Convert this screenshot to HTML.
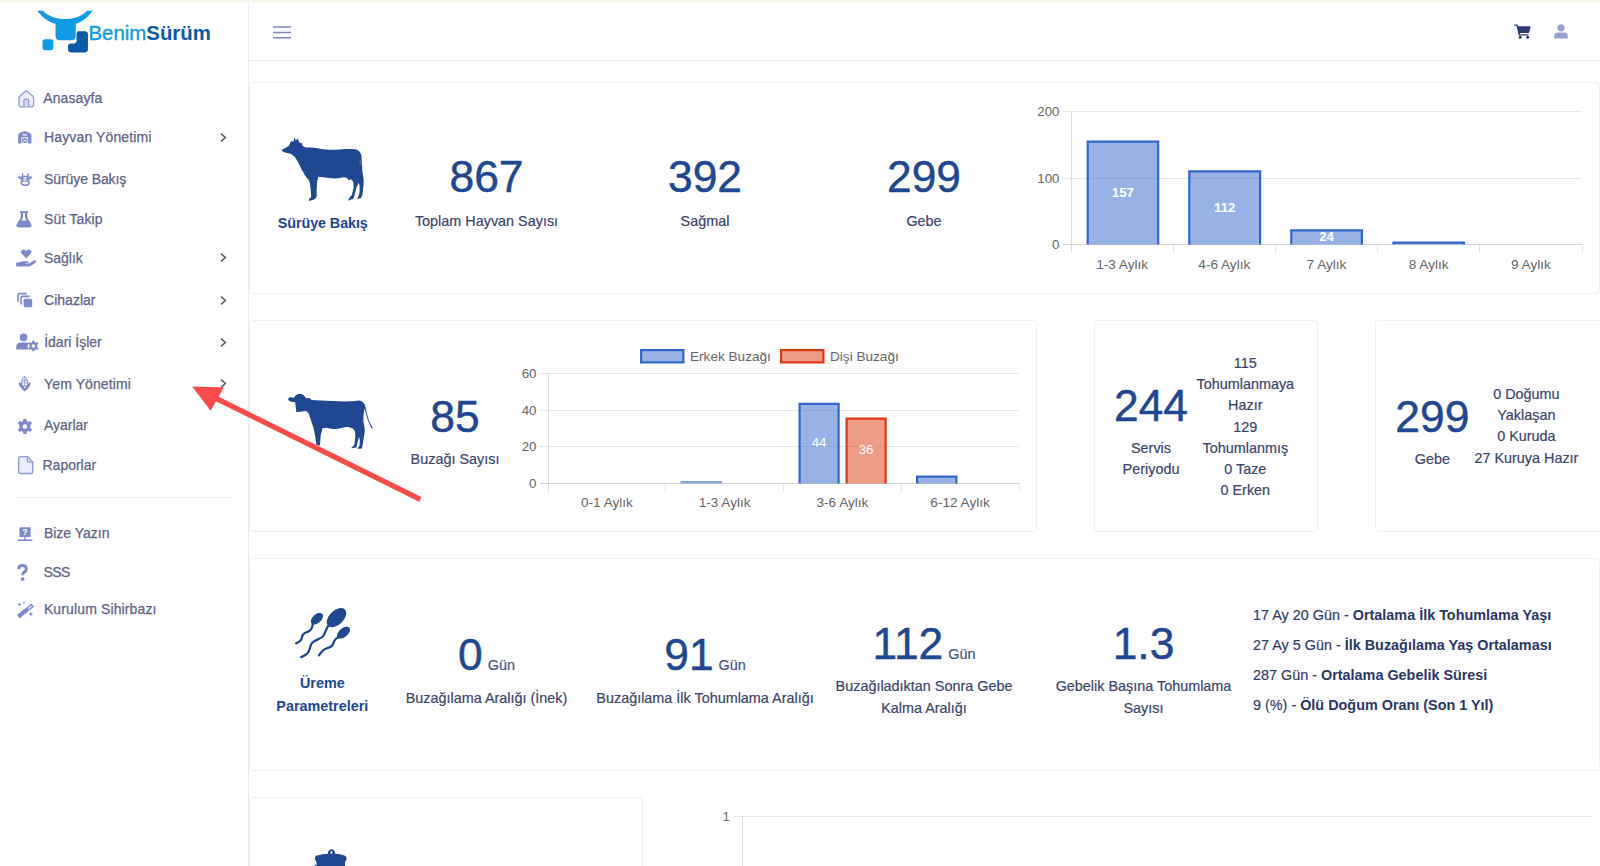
<!DOCTYPE html>
<html lang="tr">
<head>
<meta charset="utf-8">
<title>BenimSürüm</title>
<style>
*{box-sizing:border-box;margin:0;padding:0}
html,body{width:1600px;height:866px;overflow:hidden;background:#fff}
body{font-family:"Liberation Sans",sans-serif;position:relative;color:#3b466b}
.abs{position:absolute}
#topstrip{left:0;top:0;width:1600px;height:3px;background:#f7f7ee;border-bottom:1px solid #ebebe4}
#sidebar{left:0;top:2px;width:249px;height:864px;background:#fff;border-right:1px solid #e8ecf5}
#header{left:249px;top:2px;width:1351px;height:59px;background:#fff;border-bottom:1px solid #e8ecf5}
.card{position:absolute;background:#fff;border:1px solid #edf0f7;border-radius:4px}
.mi{position:absolute;left:43px;font-size:14px;color:#5e6486;-webkit-text-stroke:0.25px #5e6486;margin-left:0.1px;margin-top:0.3px;white-space:nowrap;line-height:16px;height:16px}
.chev{position:absolute;left:219px;width:8px;height:10px}
.num{position:absolute;color:#1f4792;-webkit-text-stroke:0.45px #1f4792;text-align:center;white-space:nowrap}
.lbl{position:absolute;color:#3b466b;-webkit-text-stroke:0.2px #3b466b;text-align:center;white-space:nowrap;font-size:14.4px;line-height:21px}
.ttl{position:absolute;color:#1f4792;font-weight:bold;text-align:center;white-space:nowrap;font-size:14.4px;line-height:23px}
.gun{font-size:14.4px;color:#48547f;-webkit-text-stroke:0.2px #48547f;margin-left:5px}
.lst{position:absolute;font-size:14.4px;line-height:30px;color:#34406a;white-space:nowrap;-webkit-text-stroke:0.2px #34406a}
.lst b{color:#2b3866;-webkit-text-stroke:0}
svg{position:absolute;overflow:visible}
svg text{font-family:"Liberation Sans",sans-serif}
</style>
</head>
<body>
<div id="topstrip" class="abs"></div>
<div id="sidebar" class="abs"></div>
<div id="header" class="abs"></div>

<svg class="abs" style="left:30px;top:0;width:190px;height:65px" viewBox="0 0 1600 547">
 <path d="M62,90 L108,90 C170,150 240,160 295,160 C350,160 420,150 482,90 L528,90 C470,170 400,196 385,200 L385,300 Q385,338 347,338 L253,338 Q215,338 215,300 L215,200 C190,196 120,170 62,90 Z" fill="#0f9be3"/>
 <rect x="105" y="330" width="92" height="92" rx="20" fill="#0f9be3"/>
 <path d="M400,262 L460,262 Q488,262 488,290 L488,412 Q488,442 458,442 L350,442 Q320,442 320,412 L320,392 Q320,366 346,366 L372,366 Q392,366 392,346 L392,290 Q392,270 400,262 Z" fill="#0c59a8" stroke="#fff" stroke-width="10" paint-order="stroke"/>
</svg>
<div class="abs" style="left:88.5px;top:20.6px;font-size:20.4px;line-height:24px;color:#0f9be3;white-space:nowrap;-webkit-text-stroke:0.35px #0f9be3" id="logotxt">Benim<b style="color:#0c59a8;-webkit-text-stroke:0">Sürüm</b></div>

<div class="mi" style="left:43.2px;top:89.95px;letter-spacing:0.1px">Anasayfa</div>
<div class="mi" style="left:44px;top:128.95px;letter-spacing:0.12px">Hayvan Yönetimi</div>
<svg class="chev" style="left:220px;top:132.70px;width:7px;height:9px" viewBox="0 0 7 9"><path d="M1,0.6 L5.4,4.5 L1,8.4" fill="none" stroke="#555a74" stroke-width="1.5"/></svg>
<div class="mi" style="left:44px;top:171.15px;letter-spacing:-0.1px">Sürüye Bakış</div>
<div class="mi" style="left:44px;top:210.35px;letter-spacing:0.15px">Süt Takip</div>
<div class="mi" style="left:43.8px;top:249.65px">Sağlık</div>
<svg class="chev" style="left:220px;top:253.40px;width:7px;height:9px" viewBox="0 0 7 9"><path d="M1,0.6 L5.4,4.5 L1,8.4" fill="none" stroke="#555a74" stroke-width="1.5"/></svg>
<div class="mi" style="left:44px;top:291.75px">Cihazlar</div>
<svg class="chev" style="left:220px;top:295.50px;width:7px;height:9px" viewBox="0 0 7 9"><path d="M1,0.6 L5.4,4.5 L1,8.4" fill="none" stroke="#555a74" stroke-width="1.5"/></svg>
<div class="mi" style="left:44.1px;top:333.85px">İdari İşler</div>
<svg class="chev" style="left:220px;top:337.60px;width:7px;height:9px" viewBox="0 0 7 9"><path d="M1,0.6 L5.4,4.5 L1,8.4" fill="none" stroke="#555a74" stroke-width="1.5"/></svg>
<div class="mi" style="left:44px;top:375.35px;letter-spacing:0.1px">Yem Yönetimi</div>
<svg class="chev" style="left:220px;top:379.10px;width:7px;height:9px" viewBox="0 0 7 9"><path d="M1,0.6 L5.4,4.5 L1,8.4" fill="none" stroke="#555a74" stroke-width="1.5"/></svg>
<div class="mi" style="left:43.8px;top:417.15px">Ayarlar</div>
<div class="mi" style="left:42.4px;top:456.45px">Raporlar</div>
<div class="mi" style="left:43.8px;top:524.95px">Bize Yazın</div>
<div class="mi" style="left:43.5px;top:564.05px;letter-spacing:-0.6px">SSS</div>
<div class="mi" style="left:43.8px;top:601.15px;letter-spacing:0.13px">Kurulum Sihirbazı</div>
<div class="abs" style="left:16px;top:497px;width:215px;height:1px;background:#e8ecf5"></div>
<svg style="left:17.6px;top:90px;width:16.6px;height:17.6px" viewBox="0 0 16.6 17.6"><path d="M1,7.6 Q1,6.8 1.7,6.2 L7.4,1.2 Q8.3,0.5 9.2,1.2 L14.9,6.2 Q15.6,6.8 15.6,7.6 L15.6,14.6 Q15.6,16.8 13.4,16.8 L3.2,16.8 Q1,16.8 1,14.6 Z" fill="#eceefb" stroke="#8d98d8" stroke-width="1.25" stroke-linejoin="round"/><path d="M5.9,16.6 L5.9,10.4 Q5.9,9.2 7.1,9.2 L9.5,9.2 Q10.7,9.2 10.7,10.4 L10.7,16.6" fill="#d4d8f5" stroke="#8d98d8" stroke-width="1.25"/></svg>
<svg style="left:18.2px;top:131px;width:13.6px;height:12.6px" viewBox="0 0 13.6 12.6"><path d="M0.2,12.4 L0.2,3.6 L2,1.8 L6.8,0.1 L11.6,1.8 L13.4,3.6 L13.4,12.4 L10.2,12.4 L10.2,6.2 L3.4,6.2 L3.4,12.4 Z M4.6,3.2 L9,3.2 L9,4.6 L4.6,4.6 Z" fill="#7d89cc" fill-rule="evenodd"/><path d="M4.2,7 L9.4,7 L6.8,9.3 Z M4.2,12 L9.4,12 L6.8,9.9 Z M4,7.6 L4,11.4 L6.2,9.6 Z M9.6,7.6 L9.6,11.4 L7.4,9.6 Z" fill="#7d89cc"/></svg>
<svg style="left:18px;top:173.2px;width:14.4px;height:13px" viewBox="0 0 14.4 13"><path d="M4.3,3.4 L10.1,3.4 L10.1,7.2 Q11.2,8 11.2,9.6 Q11.2,12.3 7.2,12.3 Q3.2,12.3 3.2,9.6 Q3.2,8 4.3,7.2 Z" fill="#f1f2fc" stroke="#7d89cc" stroke-width="1.5" stroke-linejoin="round"/><path d="M4.3,4.4 L0.9,4.1 Q1.6,6.2 4.3,6 M10.1,4.4 L13.5,4.1 Q12.8,6.2 10.1,6 M4.7,3.2 L4.3,0.7 M9.7,3.2 L10.1,0.7" fill="none" stroke="#7d89cc" stroke-width="1.4" stroke-linecap="round"/><path d="M3.6,8.6 Q7.2,7.4 10.8,8.6" fill="none" stroke="#7d89cc" stroke-width="1.2"/><circle cx="5.8" cy="6" r="0.75" fill="#4d5aa8"/><circle cx="8.6" cy="6" r="0.75" fill="#4d5aa8"/></svg>
<svg style="left:16.4px;top:210.8px;width:16px;height:16.6px" viewBox="0 0 16 16.6"><path d="M3.8,0.2 L12.2,0.2 L12.2,2.1 L11.2,2.1 L11.2,6.4 L15.4,13.6 Q16.3,16.4 13.6,16.4 L2.4,16.4 Q-0.3,16.4 0.6,13.6 L4.8,6.4 L4.8,2.1 L3.8,2.1 Z M7,2.1 L7,7 L5.4,9.6 L10.6,9.6 L9,7 L9,2.1 Z" fill="#7d89cc" fill-rule="evenodd"/></svg>
<svg style="left:16px;top:249.4px;width:20.6px;height:17.8px" viewBox="0 0 20.6 17.8"><path d="M10.2,9.2 L5.6,4.6 Q4.2,2.2 6.2,0.9 Q8.4,-0.1 10.2,2 Q12,-0.1 14.2,0.9 Q16.2,2.2 14.8,4.6 Z" fill="#7d89cc"/><path d="M0.2,13.6 L3.4,13.6 Q5.2,12.2 7,12.2 L11.6,12.2 Q12.7,12.3 12.6,13.2 Q12.5,14 11.6,14 L9,14 L9,14.6 L13.2,14.6 L17.6,11.6 Q19.2,10.9 20,11.8 Q20.6,12.8 19.7,13.5 L14.6,17 Q13.8,17.6 12.6,17.6 L0.2,17.6 Z" fill="#7d89cc"/></svg>
<svg style="left:17.2px;top:293.3px;width:16px;height:14.4px" viewBox="0 0 16 14.4"><rect x="6.6" y="5.8" width="8.6" height="8.4" rx="1.6" fill="#7d89cc"/><path d="M4,11.4 L4,4.8 Q4,3.4 5.4,3.4 L12.6,3.4 M1,8.8 L1,2 Q1,0.6 2.4,0.6 L9.8,0.6" fill="none" stroke="#7d89cc" stroke-width="1.6"/></svg>
<svg style="left:16px;top:333px;width:22.8px;height:18px" viewBox="0 0 22.8 18"><circle cx="7.6" cy="4.4" r="3.8" fill="#7d89cc"/><path d="M0.2,16.4 L0.2,14 Q0.2,9.4 4.8,9.4 L10.4,9.4 Q12.2,9.4 13.4,10 Q11.6,11.6 11.6,13.6 Q11.6,15.2 12.6,16.4 Z" fill="#7d89cc"/><g transform="translate(17.4,13) scale(1.14)"><path d="M-0.9,-4.6 L0.9,-4.6 L1.2,-3.3 L2.2,-2.8 L3.4,-3.5 L4.4,-1.9 L3.4,-1 L3.4,1 L4.4,1.9 L3.4,3.5 L2.2,2.8 L1.2,3.3 L0.9,4.6 L-0.9,4.6 L-1.2,3.3 L-2.2,2.8 L-3.4,3.5 L-4.4,1.9 L-3.4,1 L-3.4,-1 L-4.4,-1.9 L-3.4,-3.5 L-2.2,-2.8 L-1.2,-3.3 Z M0,-1.5 A1.5,1.5 0 1,0 0.01,-1.5 Z" fill="#7d89cc" fill-rule="evenodd"/></g></svg>
<svg style="left:18.4px;top:375.6px;width:13.4px;height:15.4px" viewBox="0 0 11.6 14.6"><path d="M5.8,0.3 Q8.8,2.6 8.8,6.4 L8.8,9.4 L2.8,9.4 L2.8,6.4 Q2.8,2.6 5.8,0.3 Z" fill="#fff" stroke="#7d89cc" stroke-width="0.9"/><path d="M5.8,0.6 L5.8,9.4 M3.2,4.2 L8.4,4.2 M3,6.4 L8.6,6.4" stroke="#7d89cc" stroke-width="0.7" fill="none"/><path d="M0.2,5.8 Q3.4,6.8 4.6,10 L5.8,11.6 L7,10 Q8.2,6.8 11.4,5.8 Q11.6,10.4 7.6,13 L6.4,14.4 L5.2,14.4 L4,13 Q0,10.4 0.2,5.8 Z" fill="#7d89cc"/></svg>
<svg style="left:17px;top:418.6px;width:15.8px;height:15px" viewBox="-7.9 -7.5 15.8 15"><path d="M-1.4,-7.4 L1.4,-7.4 L1.9,-5.4 L3.5,-4.6 L5.4,-5.6 L7.1,-3 L5.5,-1.6 L5.5,1.6 L7.1,3 L5.4,5.6 L3.5,4.6 L1.9,5.4 L1.4,7.4 L-1.4,7.4 L-1.9,5.4 L-3.5,4.6 L-5.4,5.6 L-7.1,3 L-5.5,1.6 L-5.5,-1.6 L-7.1,-3 L-5.4,-5.6 L-3.5,-4.6 L-1.9,-5.4 Z M0,-2.3 A2.3,2.3 0 1,0 0.01,-2.3 Z" fill="#7d89cc" fill-rule="evenodd"/></svg>
<svg style="left:18px;top:456.4px;width:15.6px;height:18.2px" viewBox="0 0 15.6 18.2"><path d="M2.6,0.7 L9.6,0.7 L14.8,5.9 L14.8,15.4 Q14.8,17.5 12.7,17.5 L2.8,17.5 Q0.7,17.5 0.7,15.4 L0.7,2.6 Q0.7,0.7 2.6,0.7 Z" fill="#eceefb" stroke="#8c97d6" stroke-width="1.3" stroke-linejoin="round"/><path d="M9.4,0.9 L9.4,4.6 Q9.4,6.1 10.9,6.1 L14.6,6.1" fill="none" stroke="#8c97d6" stroke-width="1.3"/></svg>
<svg style="left:17px;top:526.8px;width:16px;height:14.2px" viewBox="0 0 16 14.2"><path d="M3.4,0.2 L12.6,0.2 Q13.6,0.2 13.6,1.2 L13.6,9 Q13.6,10 12.6,10 L3.4,10 Q2.4,10 2.4,9 L2.4,1.2 Q2.4,0.2 3.4,0.2 Z" fill="#7d89cc"/><path d="M8,10 L8,12.8 M0.6,13.2 L15.4,13.2" stroke="#7d89cc" stroke-width="1.4" fill="none"/><text x="8" y="8.4" font-size="9" font-weight="bold" text-anchor="middle" fill="#fff">?</text></svg>
<svg style="left:17.4px;top:564.2px;width:11px;height:17.2px" viewBox="0 0 11 17.2"><path d="M1.7,5.2 Q1.7,1.6 5.5,1.6 Q9.3,1.6 9.3,4.9 Q9.3,6.9 7.4,8 Q5.6,9.1 5.6,11.2" fill="none" stroke="#7d89cc" stroke-width="3" stroke-linecap="butt"/><circle cx="5.6" cy="15.1" r="1.9" fill="#7d89cc"/></svg>
<svg style="left:16px;top:601.6px;width:19px;height:16.4px" viewBox="0 0 19 16.4"><path d="M2.3,14.7 L16.6,3.1" stroke="#7d89cc" stroke-width="4.2" fill="none"/><path d="M13.2,5.9 L15.4,4.1" stroke="#e9ebfa" stroke-width="1.5" fill="none"/><path d="M11.2,5.2 L13.8,8.4" stroke="#fff" stroke-width="0.7" fill="none"/><path d="M3.4,0.4 L4,1.8 L5.4,2.4 L4,3 L3.4,4.4 L2.8,3 L1.4,2.4 L2.8,1.8 Z M8,-0.4 L8.4,0.5 L9.3,0.9 L8.4,1.3 L8,2.2 L7.6,1.3 L6.7,0.9 L7.6,0.5 Z M14.8,9.6 L15.5,11.3 L17.2,12 L15.5,12.7 L14.8,14.4 L14.1,12.7 L12.4,12 L14.1,11.3 Z" fill="#7d89cc"/></svg>

<svg style="left:273px;top:26px;width:18px;height:13px" viewBox="0 0 18 13"><path d="M0,1 H18 M0,6.4 H18 M0,11.8 H18" stroke="#7c86b8" stroke-width="1.5" fill="none"/></svg>
<svg style="left:1514px;top:23.5px;width:17px;height:15px" viewBox="0 0 17 15"><path d="M0.3,0.4 L3,0.4 Q3.6,0.4 3.8,1 L4.1,2.2 L15.8,2.2 Q16.8,2.2 16.5,3.2 L15.2,8.2 Q15,9 14.2,9 L5.9,9 L6.1,10.2 L14.6,10.2 L14.6,11.4 L5.2,11.4 Q4.7,11.4 4.6,10.9 L2.6,1.8 L0.3,1.8 Z" fill="#2c3a76"/><circle cx="6.2" cy="13.3" r="1.5" fill="#2c3a76"/><circle cx="13.6" cy="13.3" r="1.5" fill="#2c3a76"/></svg>
<svg style="left:1553.5px;top:23.5px;width:14px;height:15px" viewBox="0 0 14 15"><circle cx="7" cy="3.8" r="3.6" fill="#97a0cf"/><path d="M0.2,14.6 L0.2,12.6 Q0.2,8.6 4.2,8.6 L9.8,8.6 Q13.8,8.6 13.8,12.6 L13.8,14.6 Z" fill="#97a0cf"/></svg>

<div class="card" style="left:249px;top:82px;width:1351px;height:212px"></div>
<div class="card" style="left:249px;top:320.3px;width:788px;height:212px"></div>
<div class="card" style="left:1093.5px;top:320.3px;width:224.5px;height:212px"></div>
<div class="card" style="left:1375px;top:320.3px;width:227px;height:212px"></div>
<div class="card" style="left:249px;top:558px;width:1351px;height:213px"></div>
<div class="card" style="left:249px;top:796.7px;width:394px;height:100px"></div>

<svg style="left:275px;top:130px;width:100px;height:80px" viewBox="0 0 1082 866"><path fill="#1f4792" d="M72,215 L110,195 L150,170 L168,132 L176,120 L200,128 L210,75 L226,116 L242,90 L264,136 L300,150 L290,166 L330,190 C370,186 420,188 500,205 C560,216 640,214 700,210 C760,206 820,204 870,208 C905,216 928,240 935,275 L940,350 L946,450 L960,540 L956,620 L946,700 L930,740 L890,748 L900,722 L915,682 L916,604 L905,570 L882,622 L862,700 L846,745 L790,766 L802,740 L832,700 L852,622 L846,560 L820,530 L800,546 L780,520 C760,510 730,510 700,520 C660,528 590,524 540,515 L470,505 L456,560 L450,650 L452,710 L440,740 L420,756 L364,769 L370,746 L392,724 L386,650 L378,580 L365,540 L330,500 L290,430 L250,350 L215,292 L170,256 L120,246 L85,236 Z"/><ellipse cx="922" cy="355" rx="7" ry="26" fill="#5f80bd"/></svg>
<div class="ttl" style="left:268px;width:109.5px;top:212.2px;letter-spacing:-0.1px">Sürüye Bakış</div>
<div class="num" style="left:376.5px;width:220px;top:153.4px;font-size:44.4px;line-height:48px">867</div>
<div class="lbl" style="left:376.5px;width:220px;top:210.5px">Toplam Hayvan Sayısı</div>
<div class="num" style="left:595px;width:220px;top:153.4px;font-size:44.4px;line-height:48px">392</div>
<div class="lbl" style="left:595px;width:220px;top:210.5px">Sağmal</div>
<div class="num" style="left:814px;width:220px;top:153.4px;font-size:44.4px;line-height:48px">299</div>
<div class="lbl" style="left:814px;width:220px;top:210.5px">Gebe</div>
<svg style="left:0;top:0;width:1600px;height:866px" viewBox="0 0 1600 866" id="charts">
<g stroke="#e6e6e6" stroke-width="1" shape-rendering="crispEdges"><path d="M1063,111.5 H1582 M1063,178.5 H1582"/><path d="M1173.2,244 V253"/><path d="M1275.4,244 V253"/><path d="M1377.6,244 V253"/><path d="M1479.8,244 V253"/><path d="M1582.0,244 V253"/></g><g stroke="#d4d4d4" stroke-width="1" shape-rendering="crispEdges"><path d="M1063,244.5 H1582"/></g><g stroke="#dedede" stroke-width="1" shape-rendering="crispEdges"><path d="M1071.5,111 V253"/></g>
<rect x="1087.6999999999998" y="141.6" width="70.5" height="102.9" fill="rgba(51,102,204,0.5)"/><path d="M1087.6999999999998,244.5 V141.6 H1158.2 V244.5" fill="none" stroke="#3366cc" stroke-width="2.2"/><text x="1122.9" y="197.2" font-size="13.3" font-weight="bold" fill="#fff" text-anchor="middle">157</text>
<rect x="1189.3" y="171.4" width="70.8" height="73.1" fill="rgba(51,102,204,0.5)"/><path d="M1189.3,244.5 V171.4 H1260.1000000000001 V244.5" fill="none" stroke="#3366cc" stroke-width="2.2"/><text x="1224.7" y="212.1" font-size="13.3" font-weight="bold" fill="#fff" text-anchor="middle">112</text>
<rect x="1291.3" y="230.4" width="70.6" height="14.1" fill="rgba(51,102,204,0.5)"/><path d="M1291.3,244.5 V230.4 H1361.9 V244.5" fill="none" stroke="#3366cc" stroke-width="2.2"/><text x="1326.6" y="240.6" font-size="13.3" font-weight="bold" fill="#fff" text-anchor="middle">24</text>
<rect x="1393.5" y="242.7" width="70.4" height="1.8" fill="rgba(51,102,204,0.5)"/><path d="M1393.5,244.5 V242.7 H1463.9 V244.5" fill="none" stroke="#3366cc" stroke-width="2.2"/>
<text x="1059.5" y="116.2" font-size="13.3" fill="#666" text-anchor="end">200</text><text x="1059.5" y="183.2" font-size="13.3" fill="#666" text-anchor="end">100</text><text x="1059.5" y="249.2" font-size="13.3" fill="#666" text-anchor="end">0</text><text x="1122.1" y="268.8" font-size="13.6" fill="#666" text-anchor="middle">1-3 Aylık</text><text x="1224.3" y="268.8" font-size="13.6" fill="#666" text-anchor="middle">4-6 Aylık</text><text x="1326.5" y="268.8" font-size="13.6" fill="#666" text-anchor="middle">7 Aylık</text><text x="1428.7" y="268.8" font-size="13.6" fill="#666" text-anchor="middle">8 Aylık</text><text x="1530.9" y="268.8" font-size="13.6" fill="#666" text-anchor="middle">9 Aylık</text>
<g stroke="#e6e6e6" stroke-width="1" shape-rendering="crispEdges"><path d="M540,373.5 H1019 M540,410.5 H1019 M540,446.5 H1019"/><path d="M665.8,483 V492"/><path d="M783.5,483 V492"/><path d="M901.2,483 V492"/><path d="M1019.0,483 V492"/></g><g stroke="#d4d4d4" stroke-width="1" shape-rendering="crispEdges"><path d="M540,483.5 H1019"/></g><g stroke="#dedede" stroke-width="1" shape-rendering="crispEdges"><path d="M548.5,373 V492"/></g>
<rect x="680.5" y="481" width="41.5" height="2.4" fill="#86a4e4"/>
<rect x="799.6" y="403.90000000000003" width="39.0" height="79.6" fill="rgba(51,102,204,0.5)"/><path d="M799.6,483.5 V403.90000000000003 H838.6 V483.5" fill="none" stroke="#3366cc" stroke-width="2.2"/><text x="819.1" y="447.0" font-size="13.3" fill="#fff" text-anchor="middle">44</text>
<rect x="846.6" y="418.6" width="39.0" height="64.9" fill="rgba(220,57,18,0.5)"/><path d="M846.6,483.5 V418.6 H885.6 V483.5" fill="none" stroke="#dc3912" stroke-width="2.2"/><text x="866.1" y="454.4" font-size="13.3" fill="#fff" text-anchor="middle">36</text>
<rect x="917.1" y="476.70000000000005" width="39.3" height="6.8" fill="rgba(51,102,204,0.5)"/><path d="M917.1,483.5 V476.70000000000005 H956.4 V483.5" fill="none" stroke="#3366cc" stroke-width="2.2"/>
<text x="536.5" y="378.2" font-size="13.3" fill="#666" text-anchor="end">60</text><text x="536.5" y="415.2" font-size="13.3" fill="#666" text-anchor="end">40</text><text x="536.5" y="451.2" font-size="13.3" fill="#666" text-anchor="end">20</text><text x="536.5" y="488.2" font-size="13.3" fill="#666" text-anchor="end">0</text><text x="606.9" y="507" font-size="13.6" fill="#666" text-anchor="middle">0-1 Aylık</text><text x="724.6" y="507" font-size="13.6" fill="#666" text-anchor="middle">1-3 Aylık</text><text x="842.4" y="507" font-size="13.6" fill="#666" text-anchor="middle">3-6 Aylık</text><text x="960.1" y="507" font-size="13.6" fill="#666" text-anchor="middle">6-12 Aylık</text><rect x="641.1" y="350.1" width="42.3" height="12.3" fill="rgba(51,102,204,0.5)" stroke="#3366cc" stroke-width="2.2"/><text x="690" y="361" font-size="13.6" fill="#666">Erkek Buzağı</text><rect x="781.1" y="350.1" width="42.3" height="12.3" fill="rgba(220,57,18,0.5)" stroke="#dc3912" stroke-width="2.2"/><text x="830" y="361" font-size="13.6" fill="#666">Dişi Buzağı</text>

<g stroke="#e6e6e6" stroke-width="1" shape-rendering="crispEdges"><path d="M734,816.5 H1592"/></g><g stroke="#dedede" stroke-width="1" shape-rendering="crispEdges"><path d="M742.5,816 V866"/></g><text x="730" y="821.3" font-size="13.3" fill="#666" text-anchor="end">1</text>

</svg>

<svg style="left:280px;top:385px;width:100px;height:75px" viewBox="0 0 1155 866"><path fill="#1f4792" d="M94,162 C100,140 130,134 160,150 C175,120 200,104 230,102 C262,104 285,124 298,150 L345,152 L366,174 C440,176 520,180 600,186 C700,190 800,192 870,186 L905,178 C935,178 962,192 974,220 L980,228 C1000,300 1010,380 1040,440 L1078,506 L1052,490 L1030,440 C1010,400 992,330 978,270 C965,320 960,400 966,440 C985,500 980,560 966,620 L948,734 L893,736 L918,700 L922,640 L914,600 L906,620 L880,726 L822,728 L858,692 L870,600 L866,540 L846,506 C800,478 760,480 720,494 C660,512 600,512 540,494 L492,500 L470,580 L462,700 L420,692 L408,600 L388,500 L356,400 L332,330 L300,300 L190,316 L184,280 L176,200 L130,192 C110,188 96,178 94,162 Z"/></svg>
<div class="num" style="left:385px;width:140px;top:392.6px;font-size:44.4px;line-height:48px">85</div>
<div class="lbl" style="left:385px;width:140px;top:448.5px">Buzağı Sayısı</div>

<div class="num" style="left:1091px;width:120px;top:381.6px;font-size:44.4px;line-height:48px">244</div>
<div class="lbl" style="left:1091px;width:120px;top:437.7px;line-height:21.1px">Servis<br>Periyodu</div>
<div class="lbl" style="left:1175.3px;width:140px;top:353.1px;line-height:21.15px">115<br>Tohumlanmaya<br>Hazır<br>129<br>Tohumlanmış<br>0 Taze<br>0 Erken</div>
<div class="num" style="left:1372.3px;width:120px;top:392.5px;font-size:44.4px;line-height:48px">299</div>
<div class="lbl" style="left:1372.3px;width:120px;top:448.7px">Gebe</div>
<div class="lbl" style="left:1456.4px;width:140px;top:383.7px;line-height:21.3px">0 Doğumu<br>Yaklaşan<br>0 Kuruda<br>27 Kuruya Hazır</div>

<svg style="left:270px;top:595px;width:110px;height:130px" viewBox="0 0 733 866"><g fill="#1f4792"><ellipse cx="313" cy="158" rx="48" ry="29" transform="rotate(-42 313 158)"/><ellipse cx="443" cy="151" rx="78" ry="47" transform="rotate(-44 443 151)"/><ellipse cx="490" cy="251" rx="51" ry="29" transform="rotate(-40 490 251)"/></g><g fill="none" stroke="#1f4792" stroke-width="15" stroke-linecap="round"><path d="M286,186 C284,212 278,236 254,244 C226,252 214,262 212,284 C210,308 192,314 174,322"/><path d="M394,198 C372,222 372,252 354,274 C336,296 296,296 278,322 C262,346 270,372 246,392 C234,402 222,408 208,414"/><path d="M460,280 C438,288 428,300 422,322 C416,344 398,350 376,356 C352,364 340,380 326,402"/></g></svg>
<div class="ttl" style="left:257.3px;width:130px;top:672px;line-height:23px">Üreme<br>Parametreleri</div>
<div class="num" style="left:376.5px;width:220px;top:631px;font-size:44.4px;line-height:48px">0<span class="gun">Gün</span></div>
<div class="lbl" style="left:376.5px;width:220px;top:687.9px">Buzağılama Aralığı (İnek)</div>
<div class="num" style="left:595px;width:220px;top:631px;font-size:44.4px;line-height:48px">91<span class="gun">Gün</span></div>
<div class="lbl" style="left:585px;width:240px;top:687.9px">Buzağılama İlk Tohumlama Aralığı</div>
<div class="num" style="left:814px;width:220px;top:619.6px;font-size:44.4px;line-height:48px">112<span class="gun">Gün</span></div>
<div class="lbl" style="left:804px;width:240px;top:676px;line-height:21.5px">Buzağıladıktan Sonra Gebe<br>Kalma Aralığı</div>
<div class="num" style="left:1033.5px;width:220px;top:619.6px;font-size:44.4px;line-height:48px">1.3</div>
<div class="lbl" style="left:1023.5px;width:240px;top:676px;line-height:21.5px">Gebelik Başına Tohumlama<br>Sayısı</div>
<div class="lst" style="left:1253px;top:599.8px">17 Ay 20 Gün - <b>Ortalama İlk Tohumlama Yaşı</b><br>27 Ay 5 Gün - <b>İlk Buzağılama Yaş Ortalaması</b><br>287 Gün - <b>Ortalama Gebelik Süresi</b><br>9 (%) - <b>Ölü Doğum Oranı (Son 1 Yıl)</b></div>

<svg style="left:300px;top:836px;width:60px;height:30px" viewBox="0 0 1600 800"><path fill="#1f4792" fill-rule="evenodd" d="M740,470 C745,390 790,350 840,350 C890,350 935,390 940,470 C1040,480 1150,500 1215,530 C1250,560 1250,600 1225,650 L1200,700 L1200,800 L440,800 L440,700 L415,650 C390,600 390,560 425,530 C490,500 640,480 740,470 Z M812,465 C812,420 825,400 840,400 C855,400 868,420 868,465 Z"/><path d="M360,800 L440,760 L440,800 Z" fill="#1f4792"/></svg>

<svg style="left:0;top:0;width:1600px;height:866px" viewBox="0 0 1600 866"><path d="M420.3,499.4 L216,398.3" stroke="#fb4a4a" stroke-width="5.2" fill="none"/><path d="M192.2,386.6 L223.8,387.4 L210.6,410.8 Z" fill="#fb4a4a"/></svg>

</body>
</html>
